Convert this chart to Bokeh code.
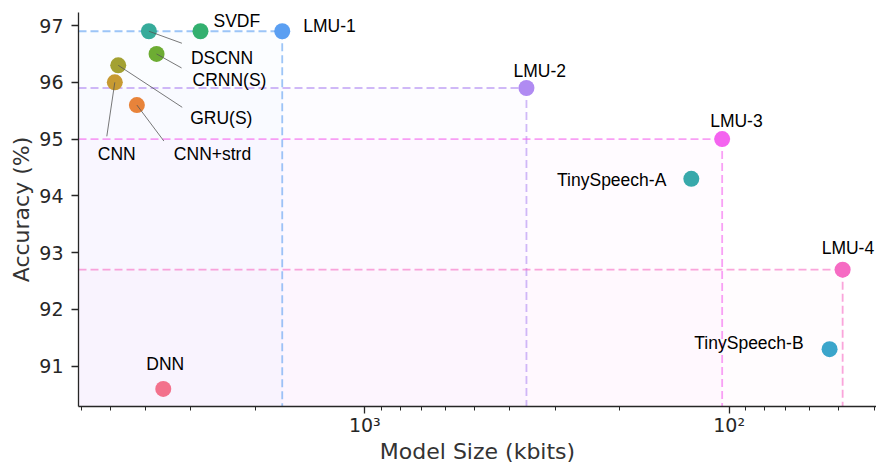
import math
from bokeh.plotting import figure
from bokeh.models import Range1d, FixedTicker, ColumnDataSource
from bokeh.core.properties import value
from bokeh.embed import file_html
from bokeh.resources import INLINE

# ---- data ----
names = ["DNN", "CNN", "CNN+strd", "GRU(S)", "CRNN(S)", "DSCNN", "SVDF",
         "LMU-1", "LMU-2", "TinySpeech-A", "LMU-3", "TinySpeech-B", "LMU-4"]
sizes = [3574, 4855, 4223, 4751, 3729, 3914, 2825,
         1685, 360, 127, 104.5, 53, 48.8]
accuracy = [90.6, 96.0, 95.6, 96.3, 96.5, 96.9, 96.9,
            96.9, 95.9, 94.3, 95.0, 91.3, 92.7]
colors = ["#f3718c", "#c79a32", "#e8833a", "#a3a132", "#6dac33", "#36ab9a", "#33b06f",
          "#5b9ff2", "#b08bf2", "#38a9ab", "#f463ef", "#3ba5cb", "#f66bc3"]

lmu_names = ["LMU-1", "LMU-2", "LMU-3", "LMU-4"]

y_ticks = [91, 92, 93, 94, 95, 96, 97]
x_major = [100, 1000]
x_labels = {100: "10\u00b2", 1000: "10\u00b3"}
x_minor = [40, 50, 60, 70, 80, 90, 200, 300, 400, 500, 600, 700, 800, 900,
           2000, 3000, 4000, 5000, 6000]
x_title = "Model Size (kbits)"
y_title = "Accuracy (%)"

# label placement (pixel offsets from marker centre), alignment
label_dx = [2, -17, 37, 72, 36, 42, 13, 21, -13, -25, -12, -26, -21]
label_dy = [-25, 72, 49, 53, 26, 27, -10, -5, -17, 1, -18, -6, -22]
label_align = ["center", "left", "left", "left", "left", "left", "left",
               "left", "left", "right", "left", "right", "left"]
# leader lines (pixel offsets of the far end)
leader_names = ["DSCNN", "CRNN(S)", "GRU(S)", "CNN", "CNN+strd"]
leader_dx = [33, 25, 64, -8, 27]
leader_dy = [12, 14, 42, 54, 36]

# ---- figure ----
x0, x1 = 6107.0, 39.4
y0, y1 = 90.29, 97.23
W, H = 876, 469
BL, BR, BT, BB = 78, 0, 12, 63
fw, fh = W - BL - BR, H - BT - BB

p = figure(width=W, height=H, x_axis_type="log",
           x_range=Range1d(x0, x1), y_range=Range1d(y0, y1),
           output_backend="svg", toolbar_location=None,
           min_border_left=BL, min_border_right=BR,
           min_border_top=BT, min_border_bottom=BB)
p.outline_line_color = None
p.grid.visible = False
p.background_fill_color = "white"

ppd = fw / (math.log10(x0) - math.log10(x1))
ppu = fh / (y1 - y0)

def px_to_x(x, dx):
    return x * 10 ** (-dx / ppd)

def px_to_y(y, dy):
    return y - dy / ppu

idx = {n: i for i, n in enumerate(names)}

# shaded regions and dashed guides for LMU models
for n in lmu_names:
    i = idx[n]
    p.quad(left=[x0], right=[sizes[i]], bottom=[y0], top=[accuracy[i]],
           fill_color=colors[i], fill_alpha=0.025, line_color=None)
for n in lmu_names:
    i = idx[n]
    p.line([x0, sizes[i]], [accuracy[i], accuracy[i]], line_color=colors[i],
           line_alpha=0.6, line_width=1.8, line_dash="8 4")
    p.line([sizes[i], sizes[i]], [accuracy[i], y0], line_color=colors[i],
           line_alpha=0.6, line_width=1.8, line_dash="8 4")

src = ColumnDataSource(dict(x=sizes, y=accuracy, c=colors))
p.scatter("x", "y", source=src, size=16, fill_color="c", line_color=None)

# leader lines
for n, dx, dy in zip(leader_names, leader_dx, leader_dy):
    i = idx[n]
    p.line([sizes[i], px_to_x(sizes[i], dx)], [accuracy[i], px_to_y(accuracy[i], dy)],
           line_color="#555555", line_width=0.8)

# labels
for i, n in enumerate(names):
    p.text(x=[sizes[i]], y=[accuracy[i]], text=[n], x_offset=label_dx[i], y_offset=label_dy[i],
           text_align=label_align[i], text_baseline="alphabetic",
           text_font=value("Liberation Sans"), text_font_size="17.5px", text_color="black")

# axes
ax = p.xaxis[0]
ax.ticker = FixedTicker(ticks=x_major, minor_ticks=x_minor)
ax.major_label_overrides = x_labels
ax.axis_label = x_title
ay = p.yaxis[0]
ay.ticker = FixedTicker(ticks=y_ticks)
ay.axis_label = y_title
for a in (ax, ay):
    a.axis_line_color = "#262626"
    a.axis_line_width = 1.3
    a.major_tick_line_color = "#262626"
    a.minor_tick_line_color = "#262626"
    a.major_tick_line_width = 1.3
    a.minor_tick_line_width = 1.0
    a.major_tick_out = 7
    a.major_tick_in = 0
    a.minor_tick_out = 4
    a.minor_tick_in = 0
    a.major_label_text_font = "DejaVu Sans"
    a.major_label_text_font_size = "19px"
    a.major_label_text_color = "#262626"
    a.axis_label_text_font = "DejaVu Sans"
    a.axis_label_text_font_size = "22px"
    a.axis_label_text_font_style = "normal"
    a.axis_label_text_color = "#333333"
ay.minor_tick_out = 0
ay.major_label_standoff = 8
ax.major_label_standoff = 0
ax.axis_label_standoff = 0
ay.axis_label_standoff = 2

open("out.html", "w").write(file_html(p, INLINE))
